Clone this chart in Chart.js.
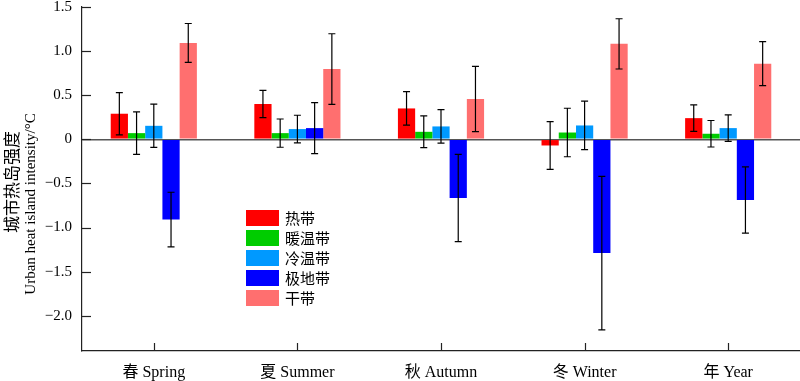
<!DOCTYPE html>
<html>
<head>
<meta charset="utf-8">
<script src="https://cdn.jsdelivr.net/npm/chart.js@4"></script>
<style>
html, body { margin: 0; padding: 0; background: #fff; }
</style>
</head>
<body>
<canvas id="chart" width="800" height="381"></canvas>
<script>
// categories and series
const categories = ['春 Spring', '夏 Summer', '秋 Autumn', '冬 Winter', '年 Year'];
const zones = ['热带', '暖温带', '冷温带', '极地带', '干带'];
const zoneColors = ['#ff0000', '#00cc00', '#0099ff', '#0000ff', '#ff6f6f'];

const tropical = [0.29, 0.40, 0.35, -0.07, 0.24];
const tropicalErr = [0.24, 0.155, 0.19, 0.27, 0.15];
const warmTemperate = [0.07, 0.07, 0.085, 0.077, 0.063];
const warmTemperateErr = [0.24, 0.16, 0.18, 0.275, 0.15];
const coldTemperate = [0.153, 0.116, 0.146, 0.157, 0.127];
const coldTemperateErr = [0.245, 0.157, 0.19, 0.275, 0.15];
const polar = [-0.91, 0.127, -0.665, -1.29, -0.688];
const polarErr = [0.31, 0.29, 0.495, 0.87, 0.375];
const arid = [1.093, 0.797, 0.457, 1.082, 0.858];
const aridErr = [0.22, 0.40, 0.37, 0.285, 0.25];

const yTicks = [-2, -1.5, -1, -0.5, 0, 0.5, 1, 1.5];

const seriesValues = [tropical, warmTemperate, coldTemperate, polar, arid];
const seriesErrors = [tropicalErr, warmTemperateErr, coldTemperateErr, polarErr, aridErr];

const serif = '"Liberation Serif", "Times New Roman", serif';
const cjk = '"Noto Sans CJK SC", sans-serif';

function fmtTick(v) {
    if (v === 0) return '0';
    const s = Math.abs(v).toFixed(1);
    return v < 0 ? '\u2212' + s : s;
}

// error bars, axis tick marks, legend and axis title
const extras = {
    id: 'extras',
    afterDatasetsDraw(chart) {
        const ctx = chart.ctx;
        const y = chart.scales.y;
        ctx.save();
        ctx.strokeStyle = '#000';
        ctx.lineWidth = 1.2;
        chart.data.datasets.forEach((ds, i) => {
            chart.getDatasetMeta(i).data.forEach((bar, j) => {
                const v = ds.data[j], e = ds.errors[j];
                const top = y.getPixelForValue(v + e);
                const bot = y.getPixelForValue(v - e);
                ctx.beginPath();
                ctx.moveTo(bar.x, top); ctx.lineTo(bar.x, bot);
                ctx.moveTo(bar.x - 3.5, top); ctx.lineTo(bar.x + 3.5, top);
                ctx.moveTo(bar.x - 3.5, bot); ctx.lineTo(bar.x + 3.5, bot);
                ctx.stroke();
            });
        });
        ctx.restore();
    },
    afterDraw(chart) {
        const ctx = chart.ctx;
        const area = chart.chartArea;
        const x = chart.scales.x, y = chart.scales.y;
        ctx.save();
        ctx.strokeStyle = '#222';
        ctx.lineWidth = 1.2;
        // inward tick marks
        yTicks.forEach(v => {
            const py = Math.round(y.getPixelForValue(v)) + 0.5;
            ctx.beginPath();
            ctx.moveTo(area.left, py); ctx.lineTo(area.left + 9, py);
            ctx.stroke();
        });
        categories.forEach((c, i) => {
            const px = Math.round(x.getPixelForValue(i)) + 0.5;
            ctx.beginPath();
            ctx.moveTo(px, area.bottom); ctx.lineTo(px, area.bottom - 8);
            ctx.stroke();
        });

        // legend
        ctx.textBaseline = 'middle';
        ctx.textAlign = 'left';
        ctx.font = '15px ' + cjk;
        chart.data.datasets.forEach((ds, i) => {
            const ty = 210 + i * 20;
            ctx.fillStyle = ds.backgroundColor;
            ctx.fillRect(246, ty, 33, 16);
            ctx.fillStyle = '#000';
            ctx.fillText(ds.label, 285, ty + 8.5);
        });

        // y axis title, two lines
        ctx.fillStyle = '#000';
        ctx.textAlign = 'center';
        ctx.save();
        ctx.translate(12, 182);
        ctx.rotate(-Math.PI / 2);
        ctx.font = '17px ' + cjk;
        ctx.fillText('城市热岛强度', 0, 0);
        ctx.restore();
        ctx.save();
        ctx.translate(31, 204);
        ctx.rotate(-Math.PI / 2);
        ctx.font = '15px ' + serif;
        ctx.fillText('Urban heat island intensity/°C', 0, 0);
        ctx.restore();
        ctx.restore();
    }
};

new Chart(document.getElementById('chart'), {
    type: 'bar',
    data: {
        labels: categories,
        datasets: zones.map((name, i) => ({
            label: name,
            data: seriesValues[i],
            errors: seriesErrors[i],
            backgroundColor: zoneColors[i],
            borderWidth: 0,
            barPercentage: 1,
            categoryPercentage: 0.6
        }))
    },
    options: {
        responsive: false,
        animation: false,
        layout: { padding: { top: 7, right: 0, left: 0, bottom: 0 } },
        plugins: {
            legend: { display: false },
            tooltip: { enabled: false }
        },
        scales: {
            x: {
                offset: true,
                afterFit(scale) {
                    scale.height = 30;
                },
                grid: { display: false, drawTicks: false },
                border: { display: true, color: '#222', width: 1.2 },
                ticks: {
                    color: '#000',
                    padding: 12,
                    font: { family: '"Liberation Serif", "Noto Sans CJK SC", serif', size: 16 }
                }
            },
            y: {
                min: -2.4,
                max: 1.5,
                afterBuildTicks(scale) {
                    scale.ticks = yTicks.map(v => ({ value: v }));
                },
                afterFit(scale) {
                    scale.width = 82;
                    scale.paddingTop = 0;
                    scale.paddingBottom = 0;
                },
                grid: {
                    drawTicks: false,
                    color: ctx => (ctx.tick && ctx.tick.value === 0 ? '#555' : 'rgba(0,0,0,0)'),
                    lineWidth: 1.5
                },
                border: { display: true, color: '#222', width: 1.2 },
                ticks: {
                    color: '#000',
                    padding: 10,
                    font: { family: serif, size: 15 },
                    callback: v => fmtTick(v)
                }
            }
        }
    },
    plugins: [extras]
});
</script>
</body>
</html>
